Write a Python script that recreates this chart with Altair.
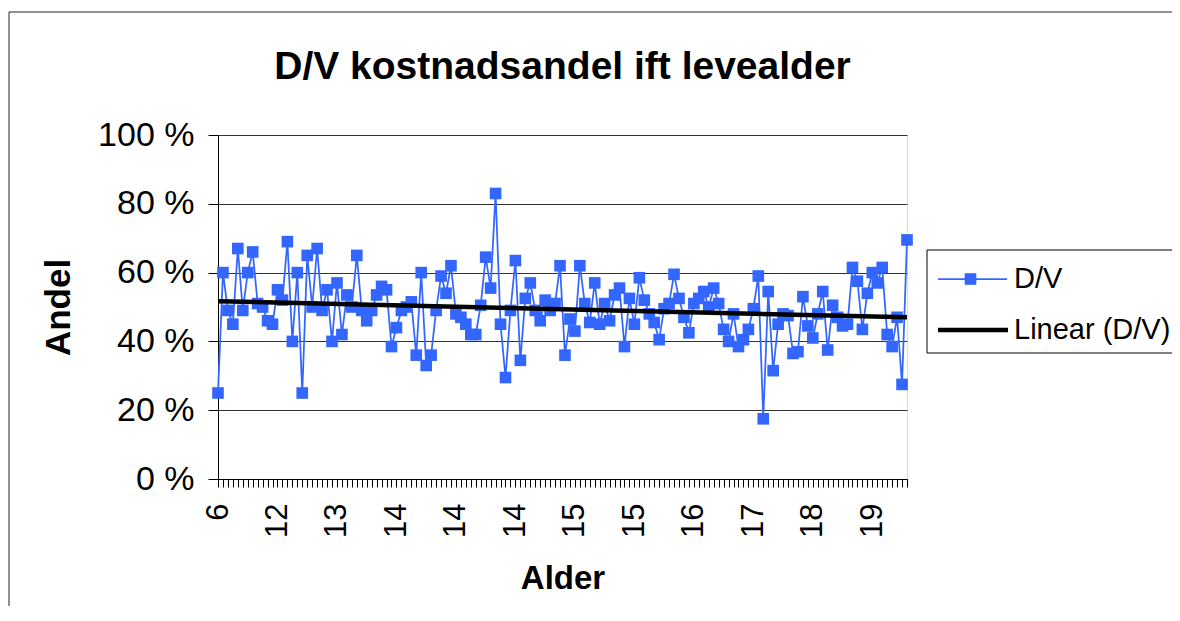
import json
import altair as alt
import pandas as pd

# ---------------- data ----------------
age_labels = ["6", "12", "13", "14", "14", "14", "15", "15", "16", "17", "18", "19"]
label_step = 12

andel_a = [25, 60, 49, 45, 67, 49, 60, 66, 51, 50, 46, 45, 55, 52, 69, 40, 60, 25, 65, 50, 67, 49, 55, 40]
andel_b = [57, 42, 53.5, 50, 65, 49, 46, 49, 53.5, 56, 55, 38.5, 44, 49, 50, 51.5, 36, 60, 33, 36, 49, 59]
andel_c = [54, 62, 48, 47, 45, 42, 42, 50.5, 64.5, 55.5,
           83, 45, 29.5, 49, 63.5, 34.5, 52.5, 57, 49, 46,
           52, 49, 51, 62, 36, 46.5, 43, 62, 51, 45.5,
           57, 45, 51, 46, 53.5, 55.5, 38.5, 52.5, 45, 58.5,
           52, 48, 45.5]
andel_d = [40.5, 49.5, 51, 59.5, 52.5, 47, 42.5, 51, 52.5, 54.5,
           50, 55.5, 51, 43.5, 40, 48, 38.5, 40.5, 43.5, 49.5,
           59, 17.5, 54.5, 31.5, 45, 48, 47.5, 36.5, 37, 53,
           44.5, 41, 48, 54.5, 37.5, 50.5, 47, 44.5, 45, 61.5,
           57.5, 43.5, 54, 60, 57, 61.5, 42, 38.5, 47, 27.5,
           69.5]
y_ticks = [0, 20, 40, 60, 80, 100]
legend_labels = ["D/V", "Linear (D/V)"]
chart_title = ["D/V kostnadsandel ift levealder"]

andel = andel_a + andel_b + andel_c + andel_d
n = len(andel)
idx = list(range(n))
df = pd.DataFrame({"idx": idx, "andel": andel})

# ---------------- styling ----------------
FONT = "Liberation Sans"
BLUE = "#3366FF"
W, H = 689, 344

x_scale = alt.Scale(domain=[0, n - 1], nice=False, zero=False)
y_scale = alt.Scale(domain=[0, 100], nice=False)

label_expr = ("datum.value % " + str(label_step) + " === 0 ? "
              + json.dumps(age_labels) + "[datum.value / " + str(label_step) + "] : ''")

x_axis = alt.Axis(
    values=idx, tickCount=n, labelExpr=label_expr, labelAngle=-90, labelOverlap=False,
    labelFlush=False, tickSize=8, tickColor="black", labelPadding=16,
    labelFontSize=31, labelColor="black", grid=False, domainColor="black",
    title="Alder", titleFontSize=33, titleFontWeight="bold", titleColor="black",
    titleX=W / 2, titleY=99, titleBaseline="middle", titleAlign="center",
)
y_axis = alt.Axis(
    values=y_ticks, labelExpr="datum.value + ' %'", tickSize=10, tickColor="black",
    labelPadding=14, labelFontSize=34, labelColor="black", grid=True,
    gridColor="#333333", gridWidth=1, gridOpacity=1, domainColor="black",
    title="Andel", titleFontSize=35, titleFontWeight="bold", titleColor="black",
    titleX=-160, titleY=H / 2, titleBaseline="middle", titleAlign="center", titleAngle=-90,
)

base = alt.Chart(df)

line = base.mark_line(color=BLUE, strokeWidth=1.75).encode(
    x=alt.X("idx:Q", scale=x_scale, axis=x_axis),
    y=alt.Y("andel:Q", scale=y_scale, axis=y_axis),
)
points = base.mark_point(shape="square", filled=True, size=135, color=BLUE, opacity=1).encode(
    x="idx:Q", y="andel:Q"
)
trend = base.transform_regression("idx", "andel").mark_line(
    color="black", strokeWidth=4.5
).encode(x="idx:Q", y="andel:Q")

# ---------------- title as text above the plot ----------------
title_df = pd.DataFrame({"title": chart_title})
title_mark = alt.Chart(title_df).mark_text(
    align="center", baseline="alphabetic", fontSize=39, fontWeight="bold", font=FONT, color="black"
).encode(x=alt.value(W / 2), y=alt.value(-56), text="title:N")

# ---------------- legend (drawn beside the plot) ----------------
leg1 = pd.DataFrame({"label": [legend_labels[0]]})
leg2 = pd.DataFrame({"label": [legend_labels[1]]})

legend_box = alt.Chart(leg1).mark_rect(fill="white", stroke="black", strokeWidth=1).encode(
    x=alt.value(709), x2=alt.value(1000), y=alt.value(115), y2=alt.value(218)
)
leg1_line = alt.Chart(leg1).mark_rule(color=BLUE, strokeWidth=1.75).encode(
    x=alt.value(720), x2=alt.value(789), y=alt.value(144)
)
leg1_sym = alt.Chart(leg1).mark_point(shape="square", filled=True, size=135, color=BLUE, opacity=1).encode(
    x=alt.value(752.5), y=alt.value(144)
)
leg1_txt = alt.Chart(leg1).mark_text(align="left", baseline="middle", fontSize=29, font=FONT, color="black").encode(
    x=alt.value(796), y=alt.value(144), text="label:N"
)
leg2_line = alt.Chart(leg2).mark_rule(color="black", strokeWidth=4.5).encode(
    x=alt.value(720), x2=alt.value(790), y=alt.value(195)
)
leg2_txt = alt.Chart(leg2).mark_text(align="left", baseline="middle", fontSize=29, font=FONT, color="black").encode(
    x=alt.value(796), y=alt.value(195), text="label:N"
)

# chart-area frame
frame_top = alt.Chart(leg1).mark_rule(color="#222222", strokeWidth=1).encode(
    x=alt.value(-209), x2=alt.value(1100), y=alt.value(-123)
)
frame_left = alt.Chart(leg1).mark_rule(color="#222222", strokeWidth=1).encode(
    x=alt.value(-209), y=alt.value(-123), y2=alt.value(600)
)

chart = alt.layer(
    line, points, trend, title_mark,
    legend_box, leg1_line, leg1_sym, leg1_txt, leg2_line, leg2_txt,
    frame_top, frame_left,
).properties(
    width=W, height=H,
    autosize=alt.AutoSizeParams(type="none"),
    padding={"left": 210, "top": 127, "right": 265, "bottom": 127},
).configure_view(
    fill="#C0C0C0", stroke="#808080", strokeWidth=1.5
).configure_axis(
    labelFont=FONT, titleFont=FONT
).configure(background="white")

chart.save("out.html", embed_options={"renderer": "svg", "actions": False})
